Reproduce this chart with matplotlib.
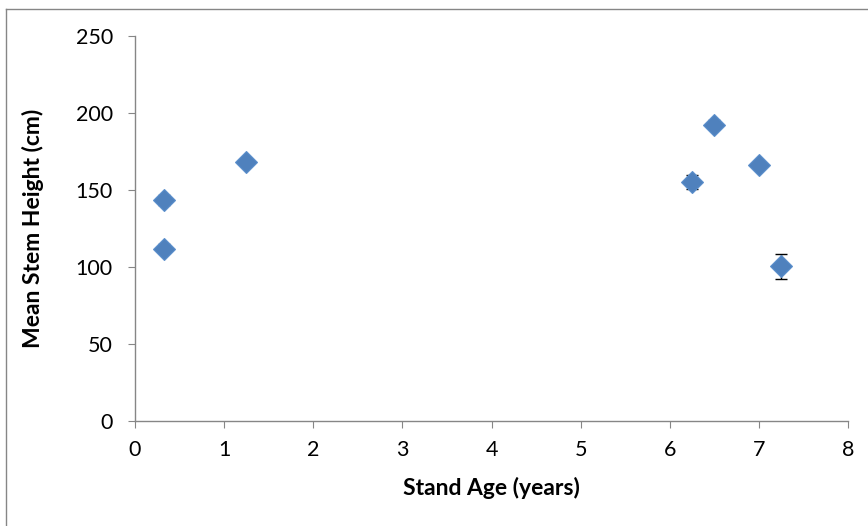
import matplotlib
matplotlib.use("Agg")
import matplotlib.pyplot as plt
from matplotlib.lines import Line2D

stand_age = [0.33, 0.33, 1.25, 6.25, 6.5, 7.0, 7.25]
mean_height = [143.5, 112.0, 168.0, 155.0, 192.5, 166.0, 100.5]
height_err = [3.0, 3.0, 2.5, 4.5, 3.0, 1.5, 8.0]
x_ticks = [0, 1, 2, 3, 4, 5, 6, 7, 8]
y_ticks = [0, 50, 100, 150, 200, 250]

plt.rcParams['font.family'] = ['Lato', 'DejaVu Sans']

fig = plt.figure(figsize=(8.68, 5.26), dpi=100)
ax = fig.add_axes([135/868, 1-421/526, (848-135)/868, (421-36)/526])

ax.errorbar(stand_age, mean_height, yerr=height_err, fmt='none', ecolor='black',
            elinewidth=1.0, capsize=4, capthick=1.0, zorder=2)
ax.plot(stand_age, mean_height, linestyle='none', marker='D', markersize=11,
        markerfacecolor='#4F81BD', markeredgecolor='#5B8FCC', markeredgewidth=0.8, zorder=3)

ax.set_xlim(0, 8)
ax.set_ylim(0, 250)
ax.set_xticks(x_ticks)
ax.set_yticks(y_ticks)
for s in ['top', 'right']:
    ax.spines[s].set_visible(False)
for s in ['left', 'bottom']:
    ax.spines[s].set_color('#868686')
    ax.spines[s].set_linewidth(1.0)
ax.tick_params(axis='both', direction='out', length=5, color='#868686',
               labelsize=15.5, labelcolor='black')
ax.tick_params(axis='x', pad=9)
ax.tick_params(axis='y', pad=11)
ax.set_xlabel('Stand Age (years)', fontsize=16.5, fontweight='bold', labelpad=12)
ax.set_ylabel('Mean Stem Height (cm)', fontsize=16.5, fontweight='bold', labelpad=23)

# outer chart frame
fig.add_artist(Line2D([6/868, 6/868], [0, 1-9/526], color='#868686', lw=1.0, transform=fig.transFigure))
fig.add_artist(Line2D([6/868, 1], [1-9/526, 1-9/526], color='#868686', lw=1.0, transform=fig.transFigure))

fig.savefig('out.png', dpi=100)
